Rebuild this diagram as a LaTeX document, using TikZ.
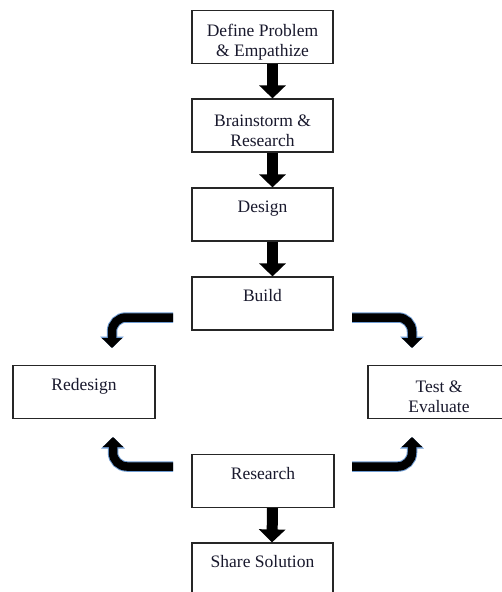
\documentclass[tikz,border=0pt]{standalone}
\usepackage{fontspec}
\setmainfont{Liberation Serif}
\usetikzlibrary{arrows.meta}
\definecolor{glow}{RGB}{110,155,210}
\definecolor{txt}{RGB}{25,25,45}
\newcommand{\tp}{\rule{0pt}{22pt}}
\tikzset{
  box/.style={draw=black!85, line width=1.2pt, fill=white, minimum width=141pt, minimum height=53pt,
    inner sep=0pt, align=center, text=txt, font=\fontsize{17.5}{20}\selectfont},
  vflow/.style={line width=11pt, -{Triangle[width=26pt,length=13pt]}},
  bent/.style={line width=8.5pt, rounded corners=14pt, -{Triangle[width=20pt,length=10pt]},
    preaction={draw=glow, line width=10.5pt, rounded corners=14pt, -{Triangle[width=23pt,length=11.5pt]}}}
}
\begin{document}
\begin{tikzpicture}[x=1pt,y=-1pt]
\useasboundingbox (0,0) rectangle (501,592);
\fill[white] (-5,-5) rectangle (506,597);
\node[box] (define) at (262.5,37) {\tp Define Problem\\ \& Empathize};
\node[box] (brain) at (262.5,125.5) {\tp Brainstorm \&\\ Research};
\node[box] (design) at (262.5,214.5) {\tp Design\\ \strut};
\node[box] (build) at (262.5,303.5) {\tp Build\\ \strut};
\node[box, minimum width=142pt] (redesign) at (84,392) {\tp Redesign\\ \strut};
\node[box, minimum width=190pt] (test) at (463,392) {\tp Test \&\hspace*{48pt}\\ Evaluate\hspace*{48pt}};
\node[box, minimum width=142pt] (research) at (263,481) {\tp Research\\ \strut};
\node[box] (share) at (262.5,569.5) {\tp Share Solution\\ \strut};

\draw[vflow] ([xshift=10pt]define.south) -- ([xshift=10pt]brain.north);
\draw[vflow] ([xshift=10pt]brain.south) -- ([xshift=10pt]design.north);
\draw[vflow] ([xshift=10pt]design.south) -- ([xshift=10pt]build.north);
\draw[vflow] ([xshift=9.5pt]research.south) -- ([xshift=9.5pt]share.north);

\coordinate (a1s) at (173,317.5);
\coordinate (a1e) at (112,348);
\coordinate (a2s) at (352,317.5);
\coordinate (a2e) at (412,348);
\coordinate (a3s) at (173,466.5);
\coordinate (a3e) at (113,437);
\coordinate (a4s) at (352,466.5);
\coordinate (a4e) at (412,437);
\draw[bent] (a1s) -| (a1e);
\draw[bent] (a2s) -| (a2e);
\draw[bent] (a3s) -| (a3e);
\draw[bent] (a4s) -| (a4e);
\end{tikzpicture}
\end{document}
